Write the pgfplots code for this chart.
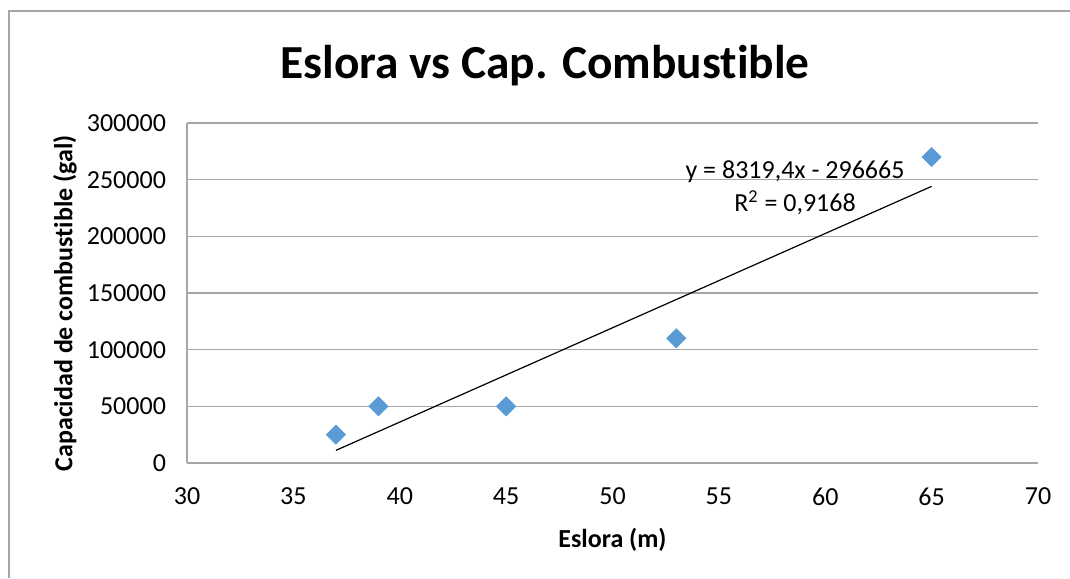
\documentclass[border=0pt]{standalone}
\usepackage{pgfplots}
\pgfplotsset{compat=1.18}
\usepackage{fontspec}
\setmainfont{Carlito}[Ligatures={NoCommon,NoContextual}]
\newcommand{\ti}{t\kern0pt i}
\definecolor{mk}{HTML}{5B9BD5}
\definecolor{grid}{HTML}{A6A6A6}
\begin{document}
\begin{tikzpicture}
\useasboundingbox (0,0) rectangle (535pt,289pt);
\draw[color=grid,line width=0.6pt] (4.5pt,0) -- (4.5pt,283.5pt) -- (535pt,283.5pt);
\node[font=\fontsize{23.7}{28}\selectfont\bfseries] at (272.5pt,256pt) {Eslora vs Cap. Combus\ti ble};
\begin{axis}[
  at={(93.5pt,57.5pt)}, anchor=south west,
  scale only axis, width=425.5pt, height=170pt,
  xmin=30, xmax=70, ymin=0, ymax=300000,
  xtick={30,35,...,70}, ytick={0,50000,100000,150000,200000,250000,300000},
  scaled y ticks=false,
  yticklabels={0,50000,100000,150000,200000,250000,300000},
  xticklabels={30,35,40,45,50,55,60,65,70},
  ymajorgrids, grid style={color=grid, line width=0.6pt},
  axis x line*=bottom, axis y line*=left,
  axis line style={color=grid, line width=0.6pt, -},
  major tick length=0pt,
  tick label style={font=\fontsize{13}{15}\selectfont},
  yticklabel style={xshift=-7pt},
  xticklabel style={yshift=-9pt},
  xlabel={Eslora (m)}, ylabel={Capacidad de combus\ti ble (gal)},
  label style={font=\fontsize{13}{15}\selectfont\bfseries},
  xlabel style={at={(axis description cs:0.5,-0.2265)}, anchor=center},
  ylabel style={at={(axis description cs:-0.1434,0.47)}, anchor=center},
  clip=false,
]
\addplot[only marks, mark=square*, mark size=3.36pt, mark options={rotate=45, fill=mk, draw=mk}]
  coordinates {(37,25000) (39,50000) (45,50000) (53,110000) (65,270000)};
\addplot[black, line width=0.6pt, no marks] coordinates {(37,11153) (65,244096)};
\node[font=\fontsize{13}{15}\selectfont] at (axis cs:58.58,257000) {y = 8319,4x - 296665};
\node[font=\fontsize{13}{15}\selectfont] at (axis cs:58.58,229700) {R\textsuperscript{2} = 0,9168};
\end{axis}
\end{tikzpicture}
\end{document}
